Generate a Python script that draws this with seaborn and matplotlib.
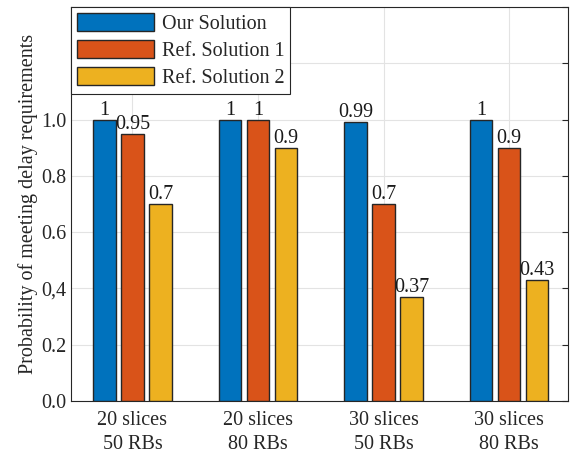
import matplotlib
matplotlib.use("Agg")
import matplotlib.pyplot as plt
import seaborn as sns
import pandas as pd

scenarios = ["20 slices\n50 RBs", "20 slices\n80 RBs", "30 slices\n50 RBs", "30 slices\n80 RBs"]
methods = ["Our Solution", "Ref. Solution 1", "Ref. Solution 2"]
our_solution = [1.0, 1.0, 0.99, 1.0]
ref_solution_1 = [0.95, 1.0, 0.7, 0.9]
ref_solution_2 = [0.7, 0.9, 0.37, 0.43]
value_labels = {
    "Our Solution": ["1", "1", "0.99", "1"],
    "Ref. Solution 1": ["0.95", "1", "0.7", "0.9"],
    "Ref. Solution 2": ["0.7", "0.9", "0.37", "0.43"],
}
colors = ["#0072BD", "#D95319", "#EDB120"]
y_ticks = [0.0, 0.2, 0.4, 0.6, 0.8, 1.0, 1.2, 1.4]
y_tick_labels = ["0.0", "0.2", "0,4", "0.6", "0.8", "1.0", "", ""]

rows = []
for m, vals in zip(methods, [our_solution, ref_solution_1, ref_solution_2]):
    for s, v in zip(scenarios, vals):
        rows.append({"scenario": s, "method": m, "value": v})
df = pd.DataFrame(rows)

sns.set_style("white")
plt.rcParams["font.family"] = ["Liberation Serif", "DejaVu Serif"]

FS = 14.5
fig = plt.figure(figsize=(5.74, 4.57), dpi=100)
ax = fig.add_axes([71 / 574, 56 / 457, 497 / 574, 394 / 457])

sns.barplot(data=df, x="scenario", y="value", hue="method", hue_order=methods,
            palette=colors, width=0.67, gap=0.19, edgecolor="#262626",
            linewidth=1.0, saturation=1.0, ax=ax, zorder=3)

for container, m in zip(ax.containers, methods):
    ax.bar_label(container, labels=value_labels[m], padding=0, fontsize=FS,
                 color="#1a1a1a", zorder=4)

ax.set_xlim(-0.49, 3.47)
ax.set_ylim(0, 1.4)
ax.set_yticks(y_ticks)
ax.set_yticklabels(y_tick_labels)
ax.set_xlabel("")
ax.set_ylabel("Probability of meeting delay requirements", fontsize=FS,
              color="#262626", labelpad=2)
ax.tick_params(axis="both", direction="in", length=4, width=0.8, colors="#262626",
               labelsize=FS, top=False, right=True, labelcolor="#262626")
ax.tick_params(axis="x", pad=7)
for lbl in ax.get_xticklabels():
    lbl.set_linespacing(1.35)
ax.grid(True, color="#e3e3e3", linewidth=0.8, zorder=0)
ax.set_axisbelow(True)
for sp in ax.spines.values():
    sp.set_visible(True)
    sp.set_color("#262626")
    sp.set_linewidth(0.8)

leg = ax.legend(loc="upper left", bbox_to_anchor=(0, 1), fontsize=FS,
                frameon=True, fancybox=False, edgecolor="#262626",
                handlelength=3.8, handleheight=1.0, borderpad=0.3,
                labelspacing=0.3, handletextpad=0.4, borderaxespad=0)
leg.get_frame().set_linewidth(0.8)
leg.get_frame().set_alpha(1)

fig.savefig("out.png", dpi=100)
